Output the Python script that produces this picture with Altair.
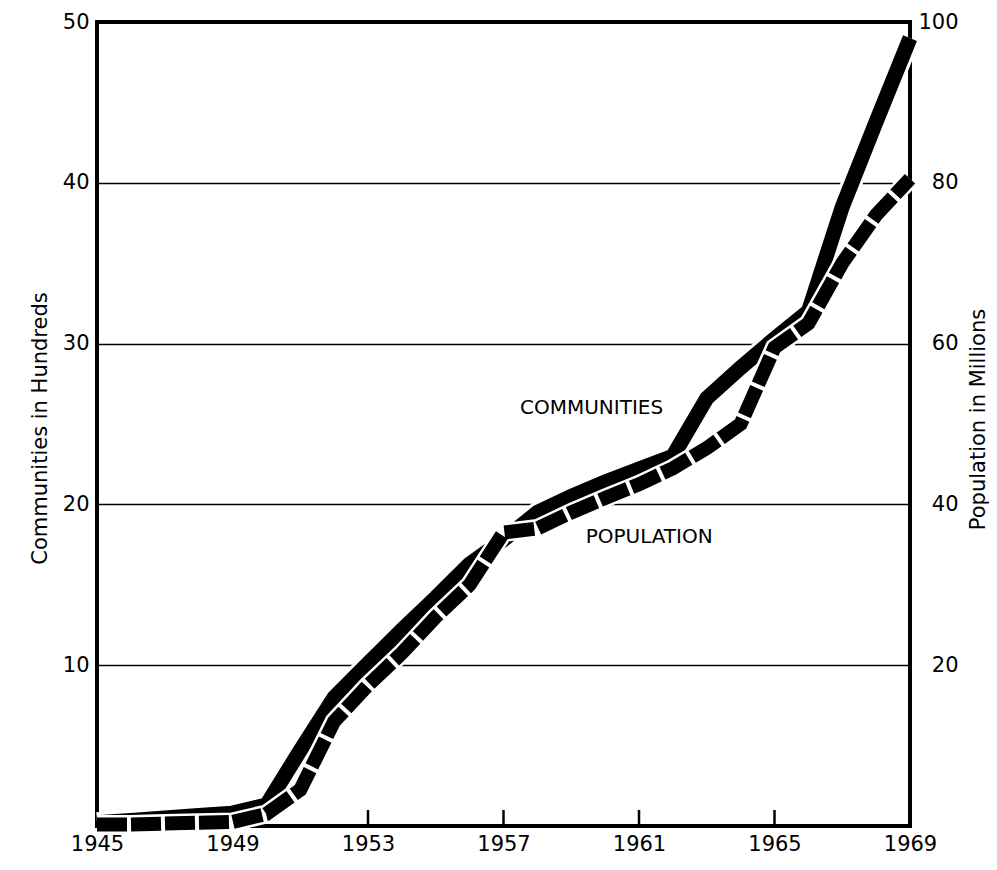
import altair as alt
import pandas as pd

# Data
years = list(range(1945, 1970))
communities = [0.2, 0.35, 0.5, 0.65, 0.8, 1.3, 4.7, 8.0, 10.1, 12.2, 14.2, 16.3,
               17.8, 19.5, 20.5, 21.4, 22.2, 23.0, 26.6, 28.5, 30.3, 32.0, 38.5,
               43.8, 49.0]
population = [0.2, 0.2, 0.3, 0.4, 0.5, 1.5, 4.5, 13.0, 17.5, 21.5, 26.0, 30.0,
              36.5, 37.0, 39.0, 40.8, 42.5, 44.5, 47.0, 50.0, 59.5, 62.5, 70.0,
              76.0, 80.5]

x_label_years = [1945, 1949, 1953, 1957, 1961, 1965, 1969]
inner_tick_years = [1953, 1957, 1961, 1965]
left_ticks = [10, 20, 30, 40, 50]
right_ticks = [20, 40, 60, 80, 100]

label_text = ["COMMUNITIES", "POPULATION"]
label_year = [1959.6, 1961.3]
label_value = [26.0, 18.0]

df = pd.DataFrame({"year": years, "communities": communities, "population": population})
ticks_df = pd.DataFrame({"year": inner_tick_years})
labels_df = pd.DataFrame({"text": label_text, "year": label_year, "value": label_value})

FONT = "DejaVu Sans"
W, H = 813, 804

xscale = alt.Scale(domain=[1945, 1969], nice=False, zero=False)
lscale = alt.Scale(domain=[0, 50], nice=False)
rscale = alt.Scale(domain=[0, 100], nice=False)

x_axis = alt.Axis(values=x_label_years, format="d", ticks=False, domain=False, grid=False,
                  labelFont=FONT, labelFontSize=21, labelColor="black", labelPadding=7,
                  labelBaseline="top", labelFlush=False, labelOverlap=False, title=None)

left_axis = alt.Axis(orient="left", values=left_ticks, ticks=False, domain=False,
                     grid=True, gridColor="black", gridWidth=1.6, gridOpacity=1,
                     labelFont=FONT, labelFontSize=21, labelColor="black", labelPadding=8,
                     labelFlush=False, labelOverlap=False, labelBaseline="middle",
                     title="Communities in Hundreds", titleFont=FONT, titleFontSize=21,
                     titleFontWeight="normal", titleColor="black", titleAngle=270,
                     titleX=-57, titleY=406, titleAlign="center", titleBaseline="middle")

right_axis = alt.Axis(orient="right", values=right_ticks, ticks=False, tickSize=0, domain=False,
                      grid=False, labelFont=FONT, labelFontSize=21, labelColor="black",
                      labelPadding=48, labelAlign="right", labelFlush=False,
                      labelOverlap=False, labelBaseline="middle",
                      title="Population in Millions", titleFont=FONT, titleFontSize=21,
                      titleFontWeight="normal", titleColor="black", titleAngle=270,
                      titleX=68, titleY=397, titleAlign="center", titleBaseline="middle")

base = alt.Chart(df)
X = alt.X("year:Q", scale=xscale, axis=x_axis)

comm_case = base.mark_line(color="white", strokeWidth=21, strokeCap="butt").encode(
    x=X, y=alt.Y("communities:Q", scale=lscale, axis=left_axis))
comm_line = base.mark_line(color="black", strokeWidth=15, strokeCap="butt").encode(
    x=X, y=alt.Y("communities:Q", scale=lscale, axis=None))
pop_case = base.mark_line(color="white", strokeWidth=19, strokeCap="butt").encode(
    x=X, y=alt.Y("population:Q", scale=rscale, axis=right_axis))
pop_line = base.mark_line(color="black", strokeWidth=14, strokeCap="butt",
                          strokeDash=[30, 4]).encode(
    x=X, y=alt.Y("population:Q", scale=rscale, axis=None))

tick_rules = alt.Chart(ticks_df).mark_rule(color="black", strokeWidth=2.5).encode(
    x=X, y=alt.value(H), y2=alt.value(H - 16))

texts = alt.Chart(labels_df).mark_text(font=FONT, fontSize=20, color="black",
                                       align="center", baseline="middle").encode(
    x=X, y=alt.Y("value:Q", scale=lscale, axis=None), text="text:N")

chart = alt.layer(comm_case, comm_line, pop_case, pop_line, tick_rules, texts).resolve_scale(
    y="independent"
).properties(
    width=W, height=H,
    autosize=alt.AutoSizeParams(type="none"),
    padding={"left": 89, "top": 14, "right": 79, "bottom": 32},
    background="white",
).configure_view(stroke="black", strokeWidth=4)

chart.save("out.html", embed_options={"renderer": "svg", "actions": False})
